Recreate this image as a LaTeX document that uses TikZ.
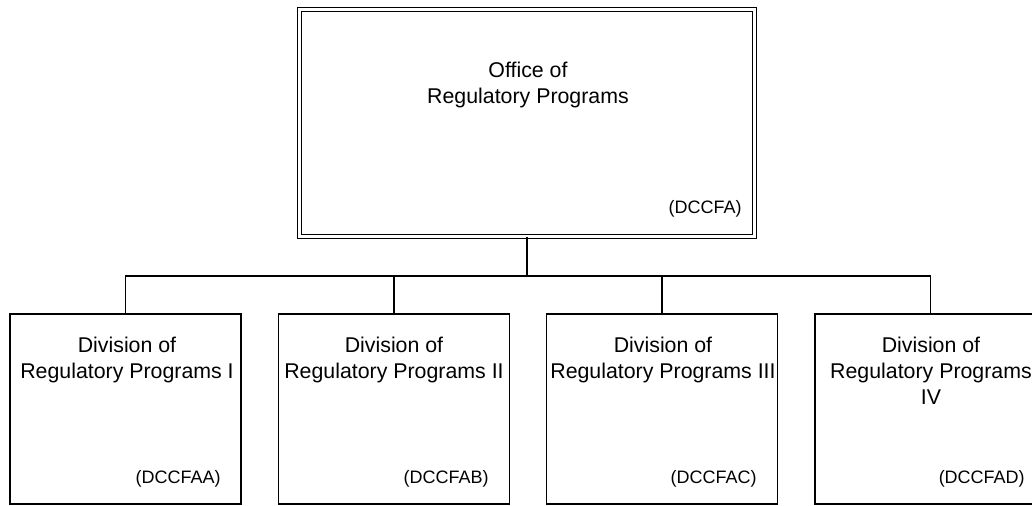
\documentclass[tikz,border=0pt]{standalone}
\usepackage{fontspec}
\setmainfont{Liberation Sans}
\begin{document}
\begin{tikzpicture}[x=0.75pt,y=-0.75pt,
  topbox/.style={draw=black, line width=1.2pt, double=white, double distance=2pt, minimum width=341.25pt, minimum height=170.25pt, inner sep=0pt},
  divbox/.style={draw=black, line width=1.4pt, minimum width=173.25pt, minimum height=142.5pt, inner sep=0pt},
  conn/.style={draw=black, line width=1.4pt},
  title/.style={align=center, anchor=base, inner sep=0pt, font=\fontsize{16}{19.5}\selectfont},
  code/.style={anchor=base east, inner sep=0pt, font=\fontsize{13.5}{16}\selectfont}]
\clip (0,0) rectangle (1032,506);
\fill[white] (0,0) rectangle (1032,506);
\node[topbox] (top) at (527,123) {};
\node[divbox] (d1) at (125.5,409) {};
\node[divbox] (d2) at (394,409) {};
\node[divbox] (d3) at (662,409) {};
\node[divbox] (d4) at (930.5,409) {};
\coordinate (bus) at (0,276);
\draw[conn] (top.south) -- (top.south |- bus);
\draw[conn] (d1.north) -- (d1.north |- bus) -| (d4.north);
\draw[conn] (d2.north) -- (d2.north |- bus);
\draw[conn] (d3.north) -- (d3.north |- bus);
\node[title] (t0) at (528,103.3) {Office of\\Regulatory Programs};
\node[code] (c0) at (742,214) {(DCCFA)};
\node[title] (t1) at (127,378.3) {Division of\\Regulatory Programs I};
\node[title] (t2) at (394,378.3) {Division of\\Regulatory Programs II};
\node[title] (t3) at (663,378.3) {Division of\\Regulatory Programs III};
\node[title] (t4) at (931,404.3) {Division of\\Regulatory Programs\\IV};
\node[code] (c1) at (221,483.5) {(DCCFAA)};
\node[code] (c2) at (489,483.5) {(DCCFAB)};
\node[code] (c3) at (757,483.5) {(DCCFAC)};
\node[code] (c4) at (1025,483.5) {(DCCFAD)};
\end{tikzpicture}
\end{document}
